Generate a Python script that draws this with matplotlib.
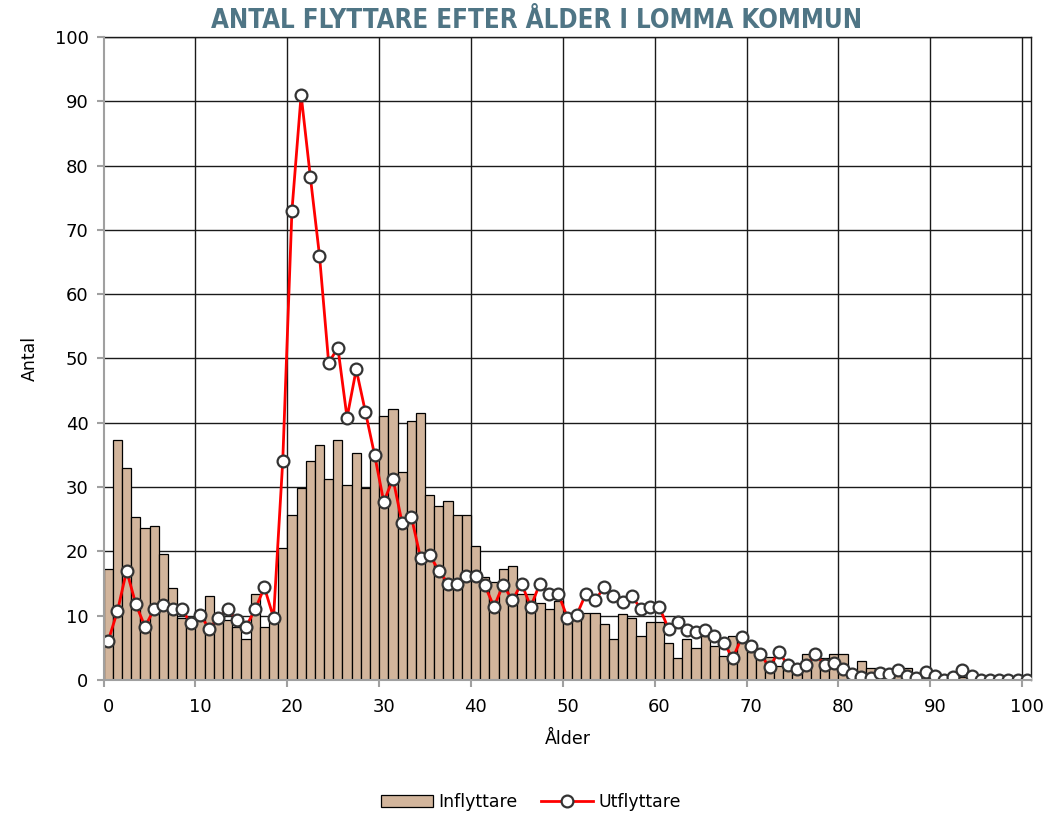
import matplotlib
matplotlib.use("Agg")
import matplotlib.pyplot as plt
import numpy as np
from matplotlib.ticker import FixedLocator

ages = list(range(0, 101))

inflyttare = [17.3, 37.3, 32.9, 25.3, 23.6, 24.0, 19.6, 14.3, 9.6, 9.5,
              10.8, 13.0, 9.3, 9.3, 8.3, 6.3, 13.3, 8.3, 9.8, 20.6,
              25.6, 29.9, 34.0, 36.6, 31.3, 37.3, 30.3, 35.3, 29.9, 35.0,
              41.0, 42.2, 32.3, 40.3, 41.6, 28.7, 27.0, 27.9, 25.6, 25.6,
              20.9, 16.0, 15.3, 17.3, 17.7, 13.4, 13.4, 12.0, 11.0, 12.3,
              9.3, 10.3, 10.4, 10.4, 8.7, 6.3, 10.3, 9.6, 6.9, 9.0,
              9.0, 5.7, 3.4, 6.3, 5.0, 6.8, 5.3, 3.7, 6.9, 6.0,
              4.4, 3.6, 3.6, 2.1, 1.6, 0.9, 4.0, 3.4, 3.4, 4.0,
              4.0, 1.3, 3.0, 1.9, 1.9, 1.6, 1.2, 1.8, 0.3, 0.5,
              0.3, 0.3, 0.5, 0.5, 0.3, 0.0, 0.0, 0.0, 0.0, 0.0,
              0.0]

utflyttare = [6.1, 10.7, 17.0, 11.8, 8.3, 11.0, 11.7, 11.0, 11.0, 8.8,
              10.1, 8.0, 9.7, 11.0, 9.3, 8.3, 11.0, 14.4, 9.7, 34.1,
              73.0, 91.0, 78.3, 66.0, 49.3, 51.7, 40.8, 48.3, 41.7, 35.0,
              27.7, 31.3, 24.4, 25.4, 19.0, 19.4, 17.0, 15.0, 15.0, 16.1,
              16.1, 14.7, 11.4, 14.8, 12.4, 15.0, 11.4, 15.0, 13.4, 13.4,
              9.7, 10.1, 13.4, 12.4, 14.4, 13.1, 12.1, 13.1, 11.0, 11.3,
              11.3, 8.0, 9.0, 7.8, 7.4, 7.7, 6.9, 5.8, 3.4, 6.7,
              5.3, 4.0, 2.0, 4.4, 2.3, 1.7, 2.3, 4.0, 2.4, 2.7,
              1.7, 0.9, 0.5, 0.3, 1.1, 0.9, 1.5, 0.6, 0.3, 1.2,
              0.6, 0.0, 0.4, 1.5, 0.6, 0.0, 0.0, 0.0, 0.0, 0.0,
              0.0]

x_ticks = list(range(0, 101, 10))
x_ticklabels = [str(v) for v in x_ticks]
y_ticks = list(range(0, 101, 10))

title = "ANTAL FLYTTARE EFTER ÅLDER I LOMMA KOMMUN"

plt.rcParams['font.family'] = ['DejaVu Sans']

fig = plt.figure(figsize=(10.47, 8.13), dpi=100)
ax = fig.add_axes([0.099, 0.1636, 0.886, 0.7909])

bars = ax.bar(ages, inflyttare, width=1.0, color='#d2b59c', edgecolor='black',
              linewidth=0.9, zorder=2, label='Inflyttare')
line, = ax.plot(ages, utflyttare, color='#ff0000', linewidth=2.0, marker='o',
                markersize=8.5, markerfacecolor='white', markeredgecolor='#333333',
                markeredgewidth=1.6, zorder=3, label='Utflyttare')

ax.set_xlim(-0.5, 100.5)
ax.set_ylim(0, 100)

ax.set_yticks(y_ticks)
ax.set_xticks(x_ticks)
ax.set_xticklabels(x_ticklabels)
ax.xaxis.set_minor_locator(FixedLocator([v - 0.5 for v in x_ticks]))
ax.tick_params(axis='x', which='major', length=0, labelsize=13, pad=13)
ax.tick_params(axis='x', which='minor', length=5, color='#a0a0a0', width=1.5)
ax.tick_params(axis='y', which='major', length=5, color='#a0a0a0', width=1.5,
               labelsize=13, pad=6)

ax.grid(False)
for v in y_ticks[1:]:
    ax.axhline(v, color='#1a1a1a', linewidth=1.0, zorder=1)
for v in x_ticks[1:]:
    ax.axvline(v - 0.5, color='#1a1a1a', linewidth=1.0, zorder=1)

for s in ['left', 'bottom']:
    ax.spines[s].set_color('#a0a0a0')
    ax.spines[s].set_linewidth(1.5)
    ax.spines[s].set_zorder(4)
for s in ['top', 'right']:
    ax.spines[s].set_color('#1a1a1a')
    ax.spines[s].set_linewidth(1.0)

ax.set_xlabel('Ålder', fontsize=12.5, labelpad=10)
ax.set_ylabel('Antal', fontsize=12.5, labelpad=11)

fig.text(0.512, 0.974, title, ha='center', va='center', fontsize=18.5,
         fontweight='bold', fontstretch='condensed', color='#4f7585',
         family=['DejaVu Sans'])

leg = fig.legend([bars, line], ['Inflyttare', 'Utflyttare'],
                 loc='center', bbox_to_anchor=(0.507, 0.013), ncol=2,
                 frameon=False, fontsize=12.5, handlelength=3.0,
                 columnspacing=1.4, handletextpad=0.3)

fig.savefig('out.png', dpi=100)
